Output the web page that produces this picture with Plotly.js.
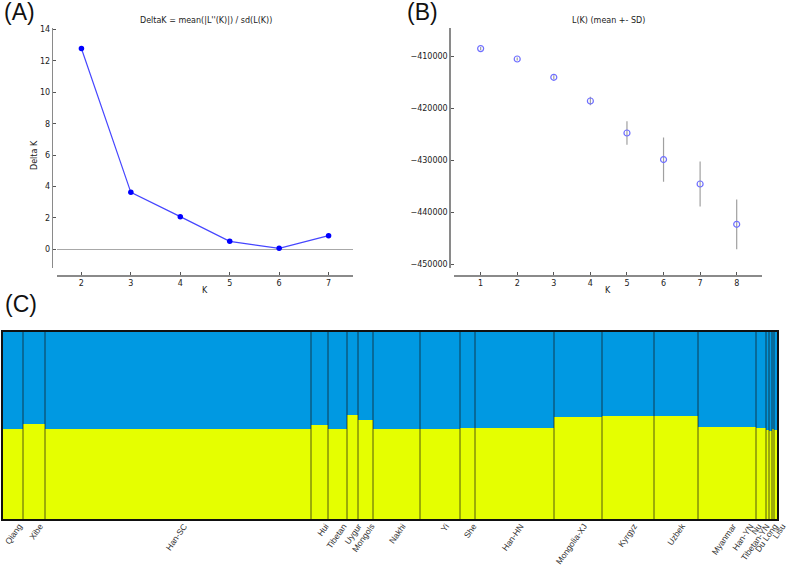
<!DOCTYPE html>
<html>
<head>
<meta charset="utf-8">
<script src="https://cdn.plot.ly/plotly-3.0.1.min.js"></script>
<style>html,body{margin:0;padding:0;background:#fff;}#chart{width:789px;height:569px;}</style>
</head>
<body>
<div id="chart"></div>
<script>
// ---- Panel A: Delta K ----
const kDelta = [2, 3, 4, 5, 6, 7];
const deltaK = [12.79, 3.63, 2.08, 0.51, 0.06, 0.87];

// ---- Panel B: L(K) mean +- SD ----
const kL = [1, 2, 3, 4, 5, 6, 7, 8];
const meanLK = [-408580, -410580, -414090, -418640, -424790, -429890, -434580, -442320];
const sdLK = [300, 300, 400, 800, 2270, 4250, 4320, 4770];
const lkTickVals = [-410000, -420000, -430000, -440000, -450000];
const lkTickText = ['\u2212410000', '\u2212420000', '\u2212430000', '\u2212440000', '\u2212450000'];

// ---- Panel C: STRUCTURE bar plot, K = 2 ----
const populations = ['Qiang','Xibe','Han-SC','Hui','Tibetan','Uygur','Mongols','Nakhi','Yi','She','Han-HN','Mongolia-XJ','Kyrgyz','Uzbek','Myanmar','Han-YN','Nu','Tibetan-YN','Du Long','Lisu'];
const sampleSizes = [20, 22, 266, 17, 19, 11, 15, 47, 40, 15, 79, 48, 52, 44, 58, 10, 3, 3, 2, 3];
const clusterYellow = [0.481,0.506,0.481,0.503,0.480,0.555,0.529,0.481,0.483,0.488,0.488,0.544,0.551,0.551,0.492,0.487,0.476,0.471,0.480,0.474];
const clusterBlue   = [0.519,0.494,0.519,0.497,0.520,0.445,0.471,0.519,0.517,0.512,0.512,0.456,0.449,0.449,0.508,0.513,0.524,0.529,0.520,0.526];

// ---- derived geometry from data ----
const W = 789, H = 569;
const px = v => v / W;
const py = v => 1 - v / H;

const starts = [];
let acc = 0;
sampleSizes.forEach(s => { starts.push(acc); acc += s; });
const total = acc;
const centers = sampleSizes.map((s, i) => starts[i] + s / 2);

// spread crowded labels (cluster & center, clamp to axis range)
function spreadLabels(c, gap, lo, hi) {
  let clusters = c.map((v, i) => ({idx: [i], mean: v}));
  const place = cl => {
    const n = cl.idx.length;
    let first = cl.mean - gap * (n - 1) / 2;
    if (first + gap * (n - 1) > hi) first = hi - gap * (n - 1);
    if (first < lo) first = lo;
    cl.first = first; cl.last = first + gap * (n - 1);
  };
  clusters.forEach(place);
  let changed = true;
  while (changed) {
    changed = false;
    for (let i = 0; i < clusters.length - 1; i++) {
      if (clusters[i + 1].first - clusters[i].last < gap) {
        const idx = clusters[i].idx.concat(clusters[i + 1].idx);
        const mean = idx.reduce((a, j) => a + c[j], 0) / idx.length;
        const m = {idx, mean}; place(m);
        clusters.splice(i, 2, m);
        changed = true; break;
      }
    }
  }
  const out = new Array(c.length);
  clusters.forEach(cl => cl.idx.forEach((j, k) => out[j] = cl.first + k * gap));
  return out;
}
const labelPos = spreadLabels(centers, 8, 0.5, total - 0.5);

const axisFont = {family: 'DejaVu Sans, sans-serif', size: 8, color: '#222'};
const spineColor = '#8a8a8a';

const traces = [
  {
    x: kDelta, y: deltaK, type: 'scatter', mode: 'lines+markers',
    xaxis: 'x', yaxis: 'y',
    line: {color: '#4646ff', width: 1.2},
    marker: {color: '#0000ff', size: 5.5},
    hoverinfo: 'x+y'
  },
  {
    x: kL, y: meanLK, type: 'scatter', mode: 'markers',
    xaxis: 'x2', yaxis: 'y2',
    error_y: {type: 'data', array: sdLK, visible: true, color: '#a0a0a0', thickness: 1.2, width: 0},
    marker: {symbol: 'circle-open', color: '#6f6fff', size: 6, line: {width: 1.2}},
    hoverinfo: 'x+y'
  },
  {
    x: centers, y: clusterYellow, width: sampleSizes, type: 'bar',
    xaxis: 'x3', yaxis: 'y3', name: 'Cluster 1',
    marker: {color: '#e5ff00', line: {width: 0}},
    hovertext: populations, hoverinfo: 'text+y', textposition: 'none'
  },
  {
    x: centers, y: clusterBlue, width: sampleSizes, type: 'bar',
    xaxis: 'x3', yaxis: 'y3', name: 'Cluster 2',
    marker: {color: '#0099e2', line: {width: 0}},
    hovertext: populations, hoverinfo: 'text+y', textposition: 'none'
  }
];

const shapes = [];
for (let i = 1; i < starts.length; i++) {
  shapes.push({type: 'line', xref: 'x3', yref: 'y3', x0: starts[i], x1: starts[i], y0: 0, y1: 1,
    line: {color: 'rgba(20,20,20,0.7)', width: 1}});
}

const commonAxis = {
  showline: true, linecolor: spineColor, linewidth: 1.6,
  ticks: 'inside', ticklen: 3, tickcolor: '#555', tickwidth: 1,
  showgrid: false, zeroline: false, tickfont: axisFont, anchor: 'free'
};

const annotations = [
  {text: "DeltaK = mean(|L''(K)|) / sd(L(K))", x: px(206), y: py(20.5), xref: 'paper', yref: 'paper', showarrow: false, xanchor: 'center', yanchor: 'middle', font: {family: 'DejaVu Sans, sans-serif', size: 8, color: '#222'}},
  {text: 'L(K) (mean +- SD)', x: px(608), y: py(20.5), xref: 'paper', yref: 'paper', showarrow: false, xanchor: 'center', yanchor: 'middle', font: {family: 'DejaVu Sans, sans-serif', size: 8, color: '#222'}},
  {text: 'Delta K', x: px(35), y: py(155), xref: 'paper', yref: 'paper', showarrow: false, textangle: -90, xanchor: 'center', yanchor: 'middle', font: axisFont},
  {text: 'K', x: px(205), y: py(290), xref: 'paper', yref: 'paper', showarrow: false, xanchor: 'center', yanchor: 'middle', font: axisFont},
  {text: 'K', x: px(608), y: py(290), xref: 'paper', yref: 'paper', showarrow: false, xanchor: 'center', yanchor: 'middle', font: axisFont},
  {text: '(A)', x: px(2), y: py(12), xref: 'paper', yref: 'paper', showarrow: false, xanchor: 'left', yanchor: 'middle', font: {family: 'Liberation Sans, Arial, sans-serif', size: 23, color: '#111'}},
  {text: '(B)', x: px(405), y: py(12), xref: 'paper', yref: 'paper', showarrow: false, xanchor: 'left', yanchor: 'middle', font: {family: 'Liberation Sans, Arial, sans-serif', size: 23, color: '#111'}},
  {text: '(C)', x: px(3), y: py(304), xref: 'paper', yref: 'paper', showarrow: false, xanchor: 'left', yanchor: 'middle', font: {family: 'Liberation Sans, Arial, sans-serif', size: 23, color: '#111'}}
];

const layout = {
  width: W, height: H,
  margin: {l: 0, r: 0, t: 0, b: 0},
  paper_bgcolor: '#fff', plot_bgcolor: 'rgba(0,0,0,0)',
  showlegend: false, barmode: 'stack', bargap: 0,
  font: {family: 'DejaVu Sans, sans-serif'},
  xaxis: Object.assign({}, commonAxis, {
    domain: [px(56.7), px(353.3)], range: [1.5, 7.5], position: py(275),
    tickvals: kDelta, ticktext: kDelta.map(String)
  }),
  yaxis: Object.assign({}, commonAxis, {
    domain: [py(268.3), py(28.3)], range: [-1.21, 14.08], position: px(51.7),
    tickvals: [0, 2, 4, 6, 8, 10, 12, 14],
    zeroline: true, zerolinecolor: '#a8a8a8', zerolinewidth: 1
  }),
  xaxis2: Object.assign({}, commonAxis, {
    domain: [px(454.3), px(762.3)], range: [0.28, 8.7], position: py(275),
    tickvals: kL, ticktext: kL.map(String)
  }),
  yaxis2: Object.assign({}, commonAxis, {
    domain: [py(268.3), py(28.3)], range: [-450770, -404680], position: px(449.3),
    tickvals: lkTickVals, ticktext: lkTickText
  }),
  xaxis3: {
    domain: [px(3), px(777)], range: [0, total], anchor: 'y3',
    showline: true, mirror: true, linecolor: '#111', linewidth: 2,
    showgrid: false, zeroline: false, ticks: '',
    tickmode: 'array', tickvals: labelPos, ticktext: populations,
    ticklabeloverflow: 'allow', ticklabelstandoff: -3, ticklabelshift: 6,
    tickangle: -55, tickfont: {family: 'Liberation Sans, Arial, sans-serif', size: 8.5, color: '#333'}
  },
  yaxis3: {
    domain: [py(519), py(332)], range: [0, 1], anchor: 'x3',
    showline: true, mirror: true, linecolor: '#111', linewidth: 2,
    showgrid: false, zeroline: false, showticklabels: false, ticks: ''
  },
  shapes: shapes,
  annotations: annotations
};

Plotly.newPlot('chart', traces, layout, {displayModeBar: false, staticPlot: true});
</script>
</body>
</html>
